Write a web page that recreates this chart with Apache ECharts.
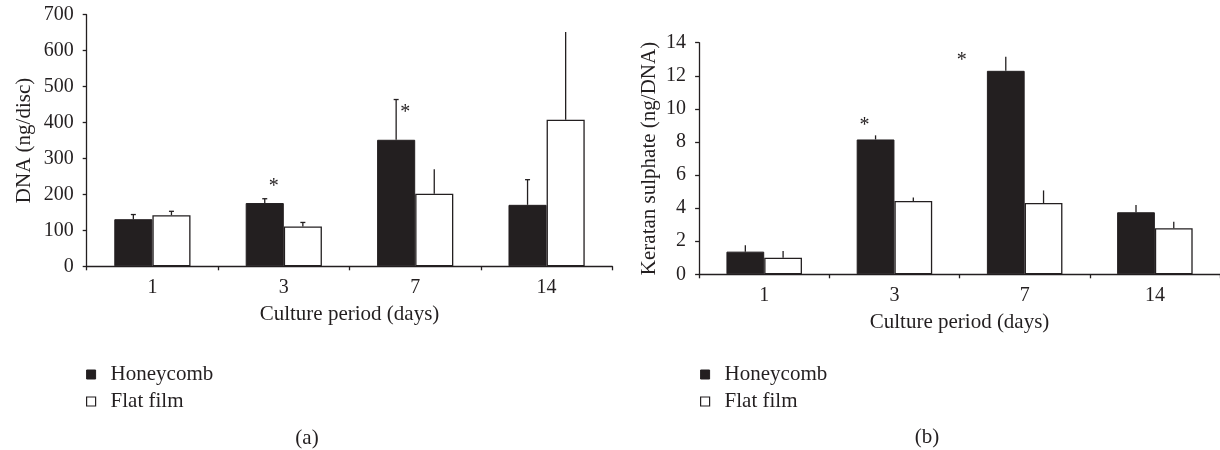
<!DOCTYPE html>
<html>
<head>
<meta charset="utf-8">
<script src="https://cdn.jsdelivr.net/npm/echarts@6/dist/echarts.min.js"></script>
<style>
  html, body { margin: 0; padding: 0; background: #fff; }
  #chart { width: 1220px; height: 450px; }
</style>
</head>
<body>
<div id="chart"></div>
<script>
// categories
const days = ['1', '3', '7', '14'];
const seriesNames = ['Honeycomb', 'Flat film'];

// (a) DNA (ng/disc): means and upper error
const dnaHoneycomb = [131, 176, 352, 171];
const dnaHoneycombErr = [13, 12, 112, 70];
const dnaFlatFilm = [142, 111, 202, 408];
const dnaFlatFilmErr = [11, 11, 68, 244];
const dnaTicks = [0, 100, 200, 300, 400, 500, 600, 700];
const dnaStars = [['3', 234], ['7', 440]];

// (b) Keratan sulphate (ng/DNA)
const ksHoneycomb = [1.37, 8.15, 12.3, 3.75];
const ksHoneycombErr = [0.38, 0.25, 0.85, 0.44];
const ksFlatFilm = [1.0, 4.43, 4.31, 2.78];
const ksFlatFilmErr = [0.41, 0.22, 0.76, 0.40];
const ksTicks = [0, 2, 4, 6, 8, 10, 12, 14];
const ksStars = [['3', 9.28], ['7', 13.19]];

const INK = '#231f20';
const FONT = '"Liberation Serif", "DejaVu Serif", serif';
const BAR_FRAC = 0.29;

// style bits, not data
const dnaCaps = [[1, 1, 1, 1], [1, 1, 0, 0]];
const ksCaps = [[0, 0, 0, 0], [0, 0, 0, 0]];
const dnaStarShift = [-10, -10];
const ksStarShift = [-30, -63];

function errData(vals, errs) {
    return vals.map(function (v, i) { return [i, v, errs[i]]; });
}

function errRender(side, caps) {
    return function (params, api) {
        var cat = api.value(0), v = api.value(1), e = api.value(2);
        var bw = api.size([1, 0])[0] * BAR_FRAC;
        var p0 = api.coord([cat, v]);
        var p1 = api.coord([cat, v + e]);
        var x = p0[0] + side * bw / 2;
        var children = [{
            type: 'line',
            shape: { x1: x, y1: p0[1], x2: x, y2: p1[1] },
            style: { stroke: INK, lineWidth: 1.3 }
        }];
        if (caps[params.dataIndex]) {
            children.push({
                type: 'line',
                shape: { x1: x - 2.5, y1: p1[1], x2: x + 2.5, y2: p1[1] },
                style: { stroke: INK, lineWidth: 1.3 }
            });
        }
        return { type: 'group', children: children };
    };
}

function starRender(shift) {
    return function (params, api) {
        var p = api.coord([api.value(0), api.value(1)]);
        return {
            type: 'text',
            x: p[0] + shift[params.dataIndex],
            y: p[1] + 5,
            style: {
                text: '*', fill: INK, font: '20px ' + FONT,
                align: 'center', verticalAlign: 'middle'
            }
        };
    };
}

function starData(stars) {
    return stars.map(function (s) { return [days.indexOf(s[0]), s[1]]; });
}

function xAxisOf(gi) {
    return {
        type: 'category', gridIndex: gi, data: days,
        name: 'Culture period (days)', nameLocation: 'middle', nameGap: 38,
        nameTextStyle: { color: INK, fontFamily: FONT, fontSize: 21 },
        axisLine: { lineStyle: { color: INK, width: 1.3 } },
        axisTick: { show: true, length: 4, lineStyle: { color: INK, width: 1.3 } },
        axisLabel: { color: INK, fontFamily: FONT, fontSize: 20, margin: 11 },
        splitLine: { show: false }
    };
}

function yAxisOf(gi, ticks, name, gap) {
    return {
        type: 'value', gridIndex: gi,
        min: ticks[0], max: ticks[ticks.length - 1], interval: ticks[1] - ticks[0],
        name: name, nameLocation: 'middle', nameRotate: 90, nameGap: gap,
        nameTextStyle: { color: INK, fontFamily: FONT, fontSize: 21 },
        axisLine: { show: true, lineStyle: { color: INK, width: 1.3 } },
        axisTick: { show: true, length: 4, lineStyle: { color: INK, width: 1.3 } },
        axisLabel: { color: INK, fontFamily: FONT, fontSize: 20, margin: 13 },
        splitLine: { show: false }
    };
}

function barSeries(name, gi, vals, black) {
    return {
        type: 'bar', name: name, xAxisIndex: gi, yAxisIndex: gi,
        data: vals, barWidth: (BAR_FRAC * 100) + '%', barGap: '0%',
        itemStyle: black
            ? { color: INK, borderColor: INK, borderWidth: 1 }
            : { color: '#fff', borderColor: INK, borderWidth: 1.3 },
        emphasis: { disabled: true },
        silent: true
    };
}

function legendOf(left) {
    return {
        left: left, top: 364, orient: 'vertical', padding: 0,
        icon: 'rect', itemWidth: 9, itemHeight: 9, itemGap: 6,
        selectedMode: false,
        textStyle: { color: INK, fontFamily: FONT, fontSize: 21, lineHeight: 21, padding: [0, 0, 0, 10] },
        data: [
            { name: seriesNames[0], itemStyle: { color: INK, borderColor: INK, borderWidth: 1 } },
            { name: seriesNames[1], itemStyle: { color: '#fff', borderColor: INK, borderWidth: 1.2 } }
        ]
    };
}

let draw = echarts.init(document.getElementById('chart'));
draw.setOption({
    animation: false,
    backgroundColor: '#fff',
    grid: [
        { left: 86.7, top: 14.7, width: 525.6, height: 251.6 },
        { left: 699.1, top: 42.7, width: 525.6, height: 231.6 }
    ],
    xAxis: [xAxisOf(0), xAxisOf(1)],
    yAxis: [
        yAxisOf(0, dnaTicks, 'DNA (ng/disc)', 52),
        yAxisOf(1, ksTicks, 'Keratan sulphate (ng/DNA)', 39)
    ],
    legend: [legendOf(86), legendOf(700)],
    series: [
        barSeries(seriesNames[0], 0, dnaHoneycomb, true),
        barSeries(seriesNames[1], 0, dnaFlatFilm, false),
        barSeries(seriesNames[0], 1, ksHoneycomb, true),
        barSeries(seriesNames[1], 1, ksFlatFilm, false),
        { type: 'custom', name: 'dnaErrH', xAxisIndex: 0, yAxisIndex: 0, silent: true,
          data: errData(dnaHoneycomb, dnaHoneycombErr), renderItem: errRender(-1, dnaCaps[0]) },
        { type: 'custom', name: 'dnaErrF', xAxisIndex: 0, yAxisIndex: 0, silent: true,
          data: errData(dnaFlatFilm, dnaFlatFilmErr), renderItem: errRender(1, dnaCaps[1]) },
        { type: 'custom', name: 'ksErrH', xAxisIndex: 1, yAxisIndex: 1, silent: true,
          data: errData(ksHoneycomb, ksHoneycombErr), renderItem: errRender(-1, ksCaps[0]) },
        { type: 'custom', name: 'ksErrF', xAxisIndex: 1, yAxisIndex: 1, silent: true,
          data: errData(ksFlatFilm, ksFlatFilmErr), renderItem: errRender(1, ksCaps[1]) },
        { type: 'custom', name: 'dnaStars', xAxisIndex: 0, yAxisIndex: 0, silent: true,
          data: starData(dnaStars), renderItem: starRender(dnaStarShift) },
        { type: 'custom', name: 'ksStars', xAxisIndex: 1, yAxisIndex: 1, silent: true,
          data: starData(ksStars), renderItem: starRender(ksStarShift) }
    ],
    graphic: [
        { type: 'text', x: 307, y: 438, style: { text: '(a)', fill: INK, font: '21px ' + FONT, align: 'center', verticalAlign: 'middle' } },
        { type: 'text', x: 927, y: 437, style: { text: '(b)', fill: INK, font: '21px ' + FONT, align: 'center', verticalAlign: 'middle' } }
    ]
});
</script>
</body>
</html>
